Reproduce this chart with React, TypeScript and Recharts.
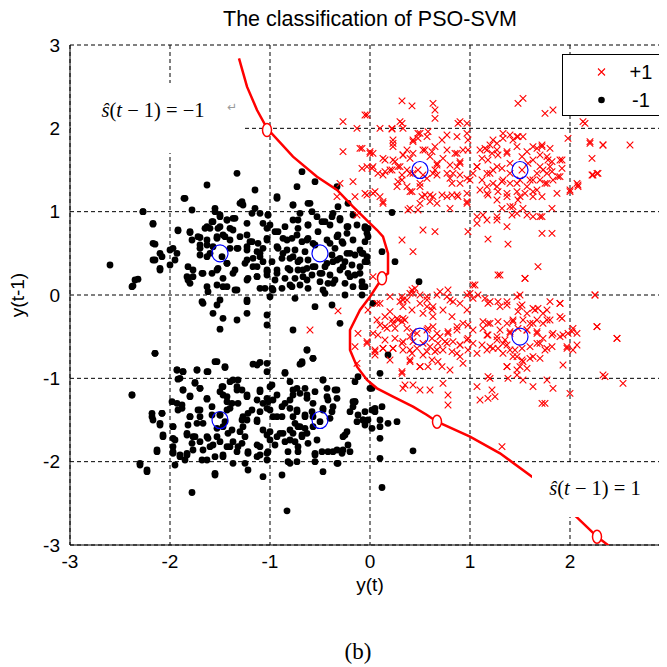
import { ScatterChart, Scatter, XAxis, YAxis, CartesianGrid } from "recharts";

// class -1 samples (black dots)
const negPoints: [number, number][] = [
  [-1.33, 1.46], [-1.63, 1.32], [-1.85, 1.16], [-2.27, 1.0], [-2.17, 0.86], [-1.15, 1.26], [-1.28, 1.12], [-1.27, 1.08],
  [-1.1, 0.98], [-0.93, 1.18], [-0.68, 1.48], [-0.55, 1.36], [-0.73, 1.3], [-0.33, 1.3], [-0.77, 1.08], [-0.62, 1.1],
  [-1.78, 1.02], [-1.55, 1.04], [-1.5, 0.94], [-1.43, 0.9], [-1.37, 0.92], [-1.58, 0.88], [-1.63, 0.82], [-1.52, 0.8],
  [-1.37, 0.78], [-1.45, 0.7], [-1.23, 0.86], [-1.18, 0.98], [-1.07, 0.86], [-1.02, 0.96], [-1.92, 0.78], [-1.8, 0.76],
  [-1.72, 0.7], [-1.63, 0.66], [-1.7, 0.6], [-1.57, 0.58], [-1.53, 0.7], [-1.4, 0.66], [-1.3, 0.7], [-1.2, 0.64],
  [-1.33, 0.56], [-1.23, 0.54], [-1.1, 0.5], [-1.12, 0.62], [-1.03, 0.66], [-0.93, 0.58], [-0.95, 0.76], [-0.85, 0.82],
  [-0.77, 0.9], [-0.7, 0.98], [-0.62, 0.84], [-0.53, 0.94], [-0.45, 0.88], [-0.37, 0.98], [-0.3, 0.9], [-0.23, 0.82],
  [-0.17, 0.96], [-0.05, 0.8], [-0.02, 0.7], [-0.83, 0.66], [-0.73, 0.72], [-0.63, 0.66], [-0.57, 0.62], [-0.43, 0.66],
  [-0.33, 0.7], [-0.27, 0.62], [-0.2, 0.5], [-0.17, 0.66], [-0.1, 0.54], [-0.03, 0.46], [-0.87, 0.5], [-0.77, 0.46],
  [-0.7, 0.42], [-0.8, 0.3], [-0.67, 0.3], [-0.57, 0.34], [-0.5, 0.26], [-0.43, 0.38], [-0.33, 0.42], [-0.27, 0.34],
  [-0.2, 0.22], [-0.1, 0.26], [-0.08, 0.1], [-0.37, 0.14], [-0.47, 0.06], [-0.63, 0.18], [-0.8, 0.12], [-0.93, 0.26],
  [-1.03, 0.3], [-1.13, 0.22], [-1.23, 0.18], [-1.37, 0.26], [-1.43, 0.38], [-1.53, 0.3], [-1.67, 0.26], [-1.77, 0.3],
  [-1.83, 0.22], [-1.8, 0.14], [-1.63, 0.1], [-1.47, 0.1], [-1.35, 0.06], [-1.1, 0.08], [-0.97, 0.06], [-2.17, 0.62],
  [-2.1, 0.5], [-2.15, 0.42], [-2.1, 0.3], [-2.0, 0.54], [-1.95, 0.42], [-2.6, 0.36], [-2.32, 0.19], [-2.37, 0.11],
  [-1.6, 0.5], [-1.48, 0.46], [-1.23, 0.42], [-1.17, 0.34],
  [-1.86, 1.16], [-2.27, 1.0], [-2.17, 0.85], [-1.92, 0.77], [-1.8, 0.75], [-1.78, 0.66], [-1.7, 0.69], [-1.65, 0.8],
  [-1.6, 0.8], [-1.55, 1.0], [-1.5, 0.96], [-1.43, 0.9], [-1.35, 0.92], [-1.57, 0.88], [-1.5, 0.82], [-1.4, 0.8],
  [-1.47, 0.72], [-1.53, 0.68], [-1.63, 0.6], [-1.7, 0.56], [-1.4, 0.56], [-1.32, 0.56], [-1.23, 0.58], [-1.18, 0.64],
  [-1.23, 0.72], [-1.13, 0.52], [-1.1, 0.46], [-1.17, 0.44], [-1.25, 0.38], [-1.13, 0.34], [-1.07, 0.4], [-1.03, 0.8],
  [-1.3, 1.1], [-1.15, 1.04], [-2.15, 0.61], [-2.08, 0.46], [-2.17, 0.42], [-2.0, 0.36], [-1.97, 0.56], [-1.93, 0.5],
  [-1.82, 0.34], [-1.77, 0.22], [-1.82, 0.18], [-1.68, 0.26], [-1.58, 0.26], [-1.52, 0.32], [-1.43, 0.38], [-1.35, 0.3],
  [-1.47, 0.2], [-1.53, 0.12], [-1.43, 0.1], [-1.33, 0.06], [-1.22, 0.2], [-1.13, 0.22], [-1.03, 0.28], [-1.62, 0.04],
  [-1.68, -0.08], [-1.5, -0.06], [-1.23, -0.06], [-1.05, 0.08], [-2.35, 0.18], [-2.38, 0.1], [-1.7, 0.48], [-1.63, 0.46],
  [-2.1, 0.32], [-1.03, 0.68], [-1.07, 0.56],
  [-0.93, 1.16], [-0.77, 1.08], [-0.6, 1.1], [-0.58, 1.0], [-0.32, 1.06], [-0.22, 1.1], [-1.02, 0.96], [-1.0, 0.84],
  [-0.72, 0.9], [-0.62, 0.84], [-0.72, 0.8], [-0.52, 0.76], [-0.4, 0.84], [-0.38, 0.94], [-0.3, 0.92], [-0.22, 0.82],
  [-0.13, 0.84], [-0.32, 0.72], [-0.23, 0.74], [-0.48, 0.88], [-0.87, 0.68], [-0.78, 0.68], [-0.68, 0.64], [-0.62, 0.68],
  [-0.55, 0.6], [-0.4, 0.62], [-0.35, 0.56], [-0.28, 0.64], [-0.38, 0.48], [-0.3, 0.44], [-0.23, 0.5], [-0.15, 0.48],
  [-0.08, 0.5], [-0.92, 0.56], [-0.83, 0.54], [-0.75, 0.54], [-0.65, 0.52], [-0.62, 0.42], [-0.72, 0.4], [-0.8, 0.44],
  [-0.88, 0.44], [-0.98, 0.4], [-0.93, 0.3], [-0.82, 0.32], [-0.72, 0.3], [-0.63, 0.32], [-0.55, 0.34], [-0.45, 0.34],
  [-0.37, 0.4], [-0.25, 0.4], [-0.18, 0.36], [-0.1, 0.34], [-0.05, 0.4], [-1.03, 0.24], [-0.95, 0.18], [-0.85, 0.2],
  [-0.75, 0.2], [-0.67, 0.22], [-0.58, 0.24], [-0.48, 0.26], [-0.4, 0.24], [-0.3, 0.3], [-0.22, 0.26], [-0.15, 0.24],
  [-0.08, 0.16], [-0.98, 0.08], [-0.88, 0.08], [-0.78, 0.1], [-0.7, 0.12], [-0.62, 0.08], [-0.5, 0.16], [-0.42, 0.14],
  [-0.35, 0.18], [-0.25, 0.14], [-0.17, 0.1], [-1.0, -0.02], [-0.75, -0.04], [-0.45, 0.02], [-0.25, 0.0], [-0.08, 0.0],
  [-0.92, 0.76], [-0.05, 0.64], [-0.02, 0.8],
  [-1.67, -0.1], [-1.53, -0.12], [-1.57, -0.22], [-1.47, -0.28], [-1.5, -0.41], [-1.33, -0.3], [-1.23, -0.08], [-1.23, -0.22],
  [-1.03, -0.24], [-0.77, -0.42], [-0.55, -0.14], [-0.38, -0.12], [-0.3, -0.34], [-0.63, -0.66], [-0.57, -0.76], [-0.68, -0.82],
  [-2.15, -0.7], [-1.03, -0.36],
  [0.22, 0.99], [-0.05, 0.82], [-0.03, 0.74], [-0.07, 0.5], [0.12, 0.52], [0.25, 0.4], [0.49, 0.16], [-0.03, 0.4], [-0.05, 0.1],
  [0.03, -0.1], [0.18, -0.72], [0.1, -0.94], [0.0, -1.12], [0.05, -1.36], [0.12, -1.34], [-0.07, -1.5], [-0.02, -1.5],
  [0.1, -1.58], [0.18, -1.54], [0.27, -1.52], [0.1, -1.72], [0.43, -1.87], [0.1, -1.96], [0.12, -2.31],
  [-1.93, -0.9], [-1.87, -0.92], [-1.73, -0.9], [-1.63, -0.92], [-1.55, -0.8], [-1.45, -0.87], [-1.17, -0.83], [-1.1, -0.81],
  [-1.03, -0.92], [-0.85, -0.93], [-0.7, -0.83], [-1.92, -1.01], [-1.75, -1.05], [-1.7, -1.12], [-1.87, -1.14], [-1.8, -1.21],
  [-1.93, -1.3], [-1.88, -1.36], [-1.63, -1.25], [-1.5, -1.16], [-1.43, -1.22], [-1.47, -1.1], [-1.37, -1.02], [-1.33, -1.1],
  [-1.28, -1.14], [-1.23, -1.22], [-1.38, -1.3], [-1.43, -1.38], [-1.5, -1.44], [-1.58, -1.44], [-1.7, -1.38], [-1.8, -1.46],
  [-1.73, -1.54], [-1.83, -1.66], [-1.75, -1.7], [-1.63, -1.7], [-1.53, -1.7], [-1.47, -1.58], [-1.42, -1.66], [-1.37, -1.76],
  [-1.32, -1.82], [-1.25, -1.7], [-1.27, -1.58], [-1.23, -1.5], [-1.13, -1.5], [-1.1, -1.14], [-1.0, -1.1], [-0.97, -1.26],
  [-1.07, -1.3], [-1.0, -1.38], [-0.93, -1.46], [-0.88, -1.34], [-0.8, -1.26], [-0.77, -1.14], [-0.7, -1.18], [-0.63, -1.2],
  [-0.57, -1.3], [-0.47, -1.02], [-0.43, -1.22], [-0.37, -1.34], [-0.33, -1.14], [-0.17, -1.28], [-0.47, -1.38], [-0.65, -1.46],
  [-0.7, -1.58], [-0.77, -1.66], [-0.68, -1.7], [-0.57, -1.58], [-0.53, -1.74], [-0.8, -1.74], [-0.87, -1.66], [-0.93, -1.7],
  [-1.0, -1.74], [-1.07, -1.62], [-1.1, -1.82], [-1.03, -1.9], [-1.13, -1.94], [-1.22, -1.9], [-1.25, -2.02], [-1.37, -2.02],
  [-1.47, -1.94], [-1.55, -1.94], [-1.63, -1.98], [-1.67, -1.86], [-1.77, -1.86], [-1.83, -1.9], [-1.9, -1.94], [-1.97, -1.9],
  [-1.97, -1.82], [-1.97, -1.72], [-1.97, -1.58], [-2.07, -1.7], [-2.13, -1.86], [-2.18, -1.46], [-2.1, -1.54], [-2.08, -1.42],
  [-2.3, -2.04], [-2.23, -2.12], [-2.38, -1.2], [-1.55, -2.16], [-1.22, -2.1], [-1.07, -2.18], [-0.88, -2.16], [-0.73, -2.0],
  [-0.8, -2.02], [-0.55, -1.9], [-0.47, -2.12], [-0.37, -1.88], [-0.32, -2.02], [-0.27, -1.86], [-0.2, -1.88], [-0.27, -1.7],
  [-0.23, -1.64], [-0.15, -1.28], [-0.07, -1.5], [0.02, -1.38], [-1.78, -2.37], [-0.83, -2.59], [-1.95, -2.04], [-1.85, -1.98],
  [-1.78, -1.78], [-1.6, -1.82], [-1.43, -1.82], [-1.28, -1.5], [-1.18, -1.38], [-0.77, -1.46], [-0.73, -1.38], [-0.75, -1.54],
  [-0.63, -1.66], [-0.62, -1.78], [-0.72, -1.82], [-0.57, -1.46], [-0.5, -1.52], [-0.4, -1.48],
  [-2.15, -0.7], [-1.53, -0.8], [-1.45, -0.86], [-1.93, -0.9], [-1.87, -0.92], [-1.73, -0.9], [-1.62, -0.92], [-1.9, -1.0],
  [-1.75, -1.06], [-1.7, -1.12], [-1.87, -1.14], [-1.8, -1.22], [-1.63, -1.24], [-1.58, -1.34], [-1.48, -1.1], [-1.47, -1.2],
  [-1.4, -1.04], [-1.32, -1.02], [-1.33, -1.14], [-1.43, -1.28], [-1.4, -1.36], [-1.32, -1.3], [-1.23, -1.2], [-1.13, -1.26],
  [-1.1, -1.16], [-1.03, -1.24], [-1.03, -0.82], [-1.13, -0.84], [-2.38, -1.2], [-1.98, -1.28], [-1.92, -1.38], [-1.88, -1.32],
  [-2.18, -1.42], [-2.08, -1.42], [-2.17, -1.5], [-2.1, -1.56], [-1.97, -1.58], [-1.8, -1.46], [-1.72, -1.38], [-1.7, -1.46],
  [-1.67, -1.54], [-1.82, -1.56], [-1.83, -1.68], [-1.77, -1.7], [-2.07, -1.68], [-1.95, -1.74], [-1.7, -1.76], [-1.62, -1.72],
  [-1.53, -1.6], [-1.5, -1.76], [-1.5, -1.44], [-1.45, -1.52], [-1.38, -1.62], [-1.3, -1.64], [-1.27, -1.46], [-1.22, -1.42],
  [-1.13, -1.52], [-1.1, -1.4], [-1.03, -1.36], [-1.28, -1.78], [-1.4, -1.82], [-1.33, -1.88], [-1.47, -1.92], [-1.57, -1.8],
  [-1.9, -1.92], [-1.83, -1.92], [-1.97, -1.88], [-1.68, -1.98], [-2.3, -2.02], [-2.23, -2.1], [-2.13, -1.88], [-1.22, -1.88],
  [-1.1, -1.92], [-1.03, -1.98], [-1.13, -1.8], [-1.03, -1.68], [-1.55, -2.14],
  [-0.63, -0.66], [-0.57, -0.76], [-0.68, -0.8], [-0.85, -0.94], [-0.8, -1.04], [-0.98, -1.08], [-0.93, -1.2], [-1.02, -1.28],
  [-0.85, -1.3], [-0.77, -1.2], [-0.73, -1.12], [-0.65, -1.12], [-0.63, -1.24], [-0.55, -1.16], [-0.47, -1.02], [-0.43, -1.12],
  [-0.35, -1.14], [-0.33, -1.24], [-0.42, -1.26], [-0.47, -1.36], [-0.58, -1.4], [-0.65, -1.44], [-0.73, -1.4], [-0.8, -1.36],
  [-0.88, -1.46], [-0.97, -1.46], [-1.0, -1.64], [-0.9, -1.66], [-0.8, -1.62], [-0.72, -1.58], [-0.65, -1.6], [-0.68, -1.68],
  [-0.75, -1.76], [-0.85, -1.76], [-0.95, -1.8], [-1.02, -1.88], [-0.82, -1.88], [-0.72, -1.88], [-0.55, -1.92], [-0.42, -1.88],
  [-0.33, -1.86], [-0.25, -1.68], [-0.22, -1.8], [-0.28, -1.9], [-0.33, -2.02], [-0.38, -1.4], [-0.2, -1.4], [-0.15, -1.28],
  [-0.12, -1.44], [-0.05, -1.4], [0.05, -1.4], [0.1, -1.5], [0.02, -1.6], [-0.05, -1.56], [-0.13, -1.52], [-0.17, -1.34],
  [-0.12, -0.98], [0.02, -1.12], [-0.15, -1.04], [-0.82, -2.0], [-0.55, -2.0], [-0.48, -1.88],
];

// class +1 samples (red crosses)
const posPoints: [number, number][] = [
  [0.32, 2.33], [0.42, 2.27], [0.63, 2.3], [0.65, 2.22], [0.65, 2.12], [-0.03, 2.16], [0.3, 2.08], [0.22, 1.99],
  [0.33, 2.0], [0.48, 1.94], [0.57, 1.9], [0.43, 1.86], [0.37, 1.74], [0.23, 1.78], [0.23, 1.86], [0.13, 1.64],
  [0.23, 1.62], [0.33, 1.68], [0.4, 1.64], [0.55, 1.74], [0.6, 1.66], [0.65, 1.78], [0.72, 1.86], [0.77, 1.74],
  [0.87, 1.9], [0.9, 2.08], [0.97, 2.06], [0.87, 1.7], [0.9, 1.58], [0.98, 1.74], [0.8, 1.56], [0.77, 1.46],
  [0.67, 1.56], [0.63, 1.46], [0.57, 1.4], [0.5, 1.34], [0.43, 1.46], [0.37, 1.5], [0.3, 1.54], [0.2, 1.5],
  [0.13, 1.44], [0.03, 1.54], [-0.03, 1.54], [0.0, 1.7], [-0.08, 1.76], [0.32, 1.38], [0.27, 1.3], [0.4, 1.24],
  [0.52, 1.18], [0.6, 1.2], [0.67, 1.1], [0.77, 1.18], [0.87, 1.2], [0.97, 1.22], [0.97, 1.1], [0.9, 1.34],
  [0.83, 1.46], [1.0, 1.38], [1.07, 1.54], [1.1, 1.74], [1.17, 1.74], [1.18, 1.62], [1.23, 1.86], [1.27, 1.74],
  [1.33, 1.94], [1.37, 1.7], [1.43, 1.86], [1.48, 1.9], [1.53, 1.9], [1.63, 1.78], [1.72, 1.78], [1.8, 1.76],
  [1.77, 1.66], [1.7, 1.54], [1.8, 1.54], [1.9, 1.62], [1.77, 1.46], [1.83, 1.38], [1.9, 1.42], [1.75, 1.34],
  [1.63, 1.38], [1.57, 1.3], [1.5, 1.18], [1.47, 1.34], [1.4, 1.46], [1.33, 1.38], [1.27, 1.3], [1.2, 1.46],
  [1.27, 1.54], [1.17, 1.22], [1.27, 1.14], [1.37, 1.22], [1.43, 1.06], [1.63, 1.18], [1.67, 1.26], [1.87, 1.22],
  [2.0, 1.24], [2.07, 1.34], [1.72, 0.94], [1.57, 0.96], [1.47, 0.98], [1.37, 0.82], [1.27, 0.94], [1.07, 0.94],
  [1.07, 0.86], [0.98, 0.76], [1.18, 0.67], [1.38, 0.61], [0.53, 0.78], [0.65, 0.76], [0.32, 0.66], [0.43, 0.52],
  [0.1, 1.18], [0.03, 1.22], [-0.05, 1.22], [0.13, 1.1], [0.38, 1.02], [0.48, 1.02], [1.48, 2.3], [1.53, 2.36],
  [1.75, 2.18], [1.83, 2.22], [1.98, 1.88], [2.2, 1.84], [2.33, 1.8], [2.6, 1.8], [2.22, 1.64], [2.23, 1.44],
  [2.28, 1.46], [2.08, 1.3], [2.13, 2.08], [1.72, 0.74], [1.82, 0.74], [1.68, 0.34], [1.3, 0.24], [1.55, 0.2],
  [1.03, 0.12], [0.7, 0.04], [0.78, 0.06], [0.42, 0.06], [0.32, -0.02],
  [-0.27, 2.08], [-0.05, 2.16], [-0.13, 2.0], [-0.27, 1.72], [-0.1, 1.76], [0.0, 1.72], [-0.08, 1.52], [0.02, 1.52],
  [-0.17, 1.36], [-0.3, 1.34], [-0.15, 1.18], [-0.03, 1.2], [-0.33, 1.18], [-0.13, 0.96], [0.03, 0.22],
  [0.1, 2.0], [0.22, 2.0], [0.32, 2.06], [0.5, 1.94], [0.58, 1.96], [0.77, 1.92], [0.88, 2.06], [0.97, 1.94],
  [0.43, 1.84], [0.48, 1.88], [0.23, 1.82], [0.03, 1.7], [0.15, 1.62], [0.25, 1.6], [0.33, 1.68], [0.43, 1.7],
  [0.53, 1.74], [0.62, 1.72], [0.67, 1.58], [0.65, 1.5], [0.73, 1.64], [0.85, 1.7], [0.9, 1.6], [0.87, 1.54],
  [0.93, 1.74], [0.98, 1.86], [0.08, 1.46], [0.15, 1.48], [0.22, 1.5], [0.28, 1.54], [0.32, 1.44], [0.4, 1.46],
  [0.48, 1.5], [0.53, 1.44], [0.67, 1.44], [0.8, 1.4], [0.9, 1.44], [0.97, 1.4], [0.82, 1.34], [0.05, 1.24],
  [0.13, 1.12], [0.28, 1.36], [0.37, 1.3], [0.42, 1.24], [0.5, 1.3], [0.55, 1.2], [0.63, 1.18], [0.6, 1.12],
  [0.5, 1.1], [0.4, 1.04], [0.72, 1.2], [0.82, 1.2], [0.8, 1.04], [0.88, 1.18], [0.97, 1.12], [1.03, 1.46],
  [1.07, 1.54], [1.12, 1.64], [1.15, 1.76], [1.2, 1.8], [1.27, 1.82], [1.33, 1.88], [1.4, 1.92], [1.47, 1.9],
  [1.47, 1.78], [1.57, 1.72], [1.67, 1.76], [1.72, 1.8], [1.78, 1.62], [1.82, 1.6], [1.92, 1.62], [1.7, 1.68],
  [1.63, 1.62], [1.52, 1.66], [1.37, 1.72], [1.28, 1.68], [1.22, 1.7], [1.12, 1.38], [1.17, 1.46], [1.23, 1.5],
  [1.32, 1.52], [1.4, 1.58], [1.52, 1.5], [1.58, 1.58], [1.67, 1.46], [1.73, 1.5], [1.82, 1.48], [1.88, 1.42],
  [1.92, 1.52], [1.77, 1.34], [1.7, 1.38], [1.6, 1.38], [1.5, 1.38], [1.4, 1.34], [1.32, 1.36], [1.23, 1.34],
  [1.17, 1.3], [1.1, 1.26], [1.18, 1.2], [1.28, 1.24], [1.37, 1.18], [1.47, 1.24], [1.55, 1.22], [1.63, 1.24],
  [1.72, 1.18], [1.48, 1.14], [1.32, 1.04], [1.4, 1.06], [1.53, 1.04], [1.13, 0.96], [1.17, 0.9], [1.27, 0.9],
  [1.42, 0.96], [1.63, 0.94], [1.7, 0.94], [1.82, 1.04], [2.0, 1.26], [2.08, 1.32], [2.2, 1.82], [2.33, 1.8],
  [2.27, 1.46], [2.22, 1.44], [2.15, 2.06],
  [0.1, -0.1], [-0.02, -0.18], [0.2, -0.2], [0.28, -0.3], [0.33, -0.28], [0.23, -0.34], [0.15, -0.38], [0.07, -0.3],
  [0.03, -0.46], [-0.03, -0.56], [0.05, -0.68], [0.13, -0.64], [0.23, -0.64], [0.32, -0.58], [0.4, -0.5], [0.47, -0.46],
  [0.57, -0.42], [0.63, -0.38], [0.7, -0.5], [0.6, -0.62], [0.53, -0.72], [0.4, -0.78], [0.32, -0.92], [0.5, -0.86],
  [0.62, -0.78], [0.67, -0.66], [0.77, -0.58], [0.78, -0.46], [0.87, -0.38], [0.82, -0.26], [0.73, -0.18], [0.63, -0.14],
  [0.57, -0.06], [0.5, 0.0], [0.43, 0.02], [0.37, -0.06], [0.3, -0.08], [0.8, -0.06], [0.9, -0.1], [0.97, -0.18],
  [0.93, -0.34], [0.97, -0.54], [0.9, -0.6], [0.87, -0.7], [0.93, -0.82], [1.0, 0.02], [1.08, 0.0], [1.18, -0.1],
  [1.3, -0.14], [1.37, -0.08], [1.5, 0.0], [1.5, -0.14], [1.63, -0.16], [1.77, -0.18], [1.9, -0.1], [1.9, -0.26],
  [1.77, -0.3], [1.63, -0.34], [1.57, -0.42], [1.67, -0.46], [1.7, -0.58], [1.83, -0.46], [1.93, -0.48], [2.02, -0.44],
  [2.07, -0.6], [1.97, -0.64], [1.93, -0.84], [1.77, -0.64], [1.63, -0.74], [1.53, -0.8], [1.47, -0.74], [1.4, -0.66],
  [1.33, -0.58], [1.27, -0.54], [1.17, -0.48], [1.2, -0.34], [1.13, -0.32], [1.3, -0.42], [1.4, -0.46], [1.43, -0.3],
  [1.03, -0.42], [1.03, -0.58], [1.07, -0.7], [1.17, -0.66], [1.23, -0.64], [1.37, -0.86], [1.47, -0.96], [1.53, -1.02],
  [1.63, -1.1], [1.77, -1.02], [1.83, -1.12], [1.72, -1.3], [1.75, -1.3], [1.47, -0.9], [1.38, -1.0], [1.2, -1.0],
  [1.07, -1.1], [1.22, -1.14], [1.25, -1.22], [1.18, -1.24], [1.1, -1.26], [0.78, -1.2], [0.78, -1.32], [0.6, -1.14],
  [0.5, -1.14], [0.33, -1.12], [0.35, -1.08], [0.43, -1.08], [2.25, 0.0], [2.27, -0.38], [2.47, -0.52], [2.35, -0.98],
  [2.53, -1.06], [2.0, -1.18], [1.32, -1.82], [0.73, -1.06], [0.4, -0.66],
  [-0.32, -0.19], [-0.6, -0.42], [-0.12, -0.46], [-0.15, -0.62], [-0.03, -0.58], [0.05, -0.72], [-0.13, -0.82],
  [0.07, -0.1], [0.2, -0.02], [0.33, -0.06], [0.4, 0.02], [0.45, 0.08], [0.57, -0.02], [0.67, 0.0], [0.77, -0.02],
  [0.83, -0.08], [0.97, 0.0], [0.33, -0.14], [0.42, -0.18], [0.5, -0.1], [0.57, -0.14], [0.53, -0.22], [0.62, -0.18],
  [0.63, -0.26], [0.15, -0.26], [0.22, -0.3], [0.27, -0.28], [0.32, -0.32], [0.35, -0.3], [0.1, -0.36], [0.17, -0.4],
  [0.25, -0.4], [0.37, -0.4], [0.43, -0.44], [0.58, -0.4], [0.67, -0.46], [0.78, -0.44], [0.87, -0.42], [0.08, -0.48],
  [0.15, -0.54], [0.25, -0.52], [0.33, -0.56], [0.43, -0.56], [0.53, -0.58], [0.62, -0.52], [0.68, -0.58], [0.75, -0.56],
  [0.83, -0.56], [0.9, -0.6], [0.98, -0.66], [0.05, -0.66], [0.13, -0.64], [0.23, -0.64], [0.33, -0.66], [0.42, -0.7],
  [0.47, -0.64], [0.57, -0.68], [0.65, -0.68], [0.73, -0.66], [0.82, -0.68], [0.9, -0.74], [0.2, -0.78], [0.4, -0.8],
  [0.5, -0.86], [0.58, -0.86], [0.68, -0.8], [0.72, -0.86], [0.8, -0.9], [0.32, -0.94], [1.05, 0.12], [1.03, -0.04],
  [1.15, -0.04], [1.2, -0.08], [1.28, -0.08], [1.37, -0.12], [1.47, -0.02], [1.52, -0.12], [1.48, -0.2], [1.57, -0.22],
  [1.65, -0.18], [1.68, -0.16], [1.73, -0.22], [1.8, -0.08], [1.9, -0.1], [1.92, -0.28], [1.8, -0.3], [1.73, -0.34],
  [1.67, -0.3], [1.6, -0.34], [1.53, -0.3], [1.43, -0.32], [1.37, -0.34], [1.28, -0.32], [1.18, -0.34], [1.13, -0.4],
  [1.18, -0.48], [1.27, -0.5], [1.35, -0.54], [1.4, -0.44], [1.48, -0.4], [1.57, -0.42], [1.67, -0.44], [1.73, -0.52],
  [1.82, -0.48], [1.9, -0.5], [1.12, -0.6], [1.2, -0.62], [1.28, -0.64], [1.37, -0.6], [1.45, -0.66], [1.52, -0.64],
  [1.6, -0.62], [1.67, -0.58], [1.75, -0.66], [1.82, -0.62], [1.33, -0.7], [1.43, -0.74], [1.52, -0.78], [1.6, -0.76],
  [1.37, -0.86], [1.5, -0.86], [1.7, -0.76], [1.57, -0.88], [1.97, -0.62], [2.03, -0.66], [2.07, -0.46], [1.98, -0.46],
  [2.03, -0.4], [2.27, -0.38], [2.47, -0.52], [2.25, 0.0], [1.28, 0.24], [1.55, 0.2], [0.98, -0.36], [0.98, -0.52],
  [1.18, -0.98], [2.33, -0.96],
];

// cluster centres (blue circles)
const centers: [number, number][] = [
  [-1.5, 0.5], [-0.5, 0.5], [-1.5, -1.5], [-0.5, -1.5], [0.5, 1.5], [1.5, 1.5], [0.5, -0.5], [1.5, -0.5],
];

// PSO-SVM decision boundary
const boundary: [number, number][] = [
  [-1.31, 2.84], [-1.23, 2.5], [-1.13, 2.22], [-1.03, 2.0], [-0.77, 1.66], [-0.53, 1.42], [-0.33, 1.26], [-0.17, 1.06],
  [0.0, 0.86], [0.07, 0.78], [0.13, 0.7], [0.18, 0.5], [0.18, 0.26], [0.12, 0.2], [0.0, -0.02], [-0.1, -0.18],
  [-0.2, -0.42], [-0.2, -0.66], [-0.13, -0.86], [-0.03, -1.02], [0.07, -1.12], [0.23, -1.22], [0.43, -1.34],
  [0.57, -1.44], [0.67, -1.52], [1.0, -1.7], [1.3, -1.9], [1.62, -2.18], [2.08, -2.68], [2.27, -2.9], [2.4, -3.02],
];
const boundaryMarks: [number, number][] = [[-1.03, 1.98], [0.12, 0.2], [0.67, -1.52], [2.27, -2.9]];

const axisTicks = [-3, -2, -1, 0, 1, 2, 3];

const toXY = (arr: [number, number][]) => arr.map(([x, y]) => ({ x, y }));

const sansFont = "'Liberation Sans', Arial, sans-serif";
const serifFont = "'Liberation Serif', 'Times New Roman', serif";

const Cross = (p: any) => {
  const { cx, cy } = p;
  const s = 3.3;
  return (
    <path
      d={`M${cx - s},${cy - s}L${cx + s},${cy + s}M${cx - s},${cy + s}L${cx + s},${cy - s}`}
      stroke="#ff0000"
      strokeWidth={1.1}
      fill="none"
    />
  );
};
const Dot = (p: any) => <circle cx={p.cx} cy={p.cy} r={3.4} fill="#000" />;
const Centre = (p: any) => (
  <ellipse cx={p.cx} cy={p.cy} rx={8} ry={8.5} fill="none" stroke="#0000ff" strokeWidth={1.2} />
);
const Mark = (p: any) => (
  <ellipse cx={p.cx} cy={p.cy} rx={4.5} ry={6.5} fill="#fff" stroke="#ff0000" strokeWidth={1.5} />
);
const NoShape = () => <g />;

const label = (extra: any) => ({ position: "absolute" as const, whiteSpace: "nowrap" as const, lineHeight: 1.1, ...extra });

export default function App() {
  return (
    <div style={{ position: "relative", width: 659, height: 659, overflow: "hidden", background: "#fff" }}>
      <ScatterChart width={680} height={659} margin={{ top: 37, right: 18, bottom: 92, left: 0 }}>
        <CartesianGrid stroke="#000" strokeDasharray="4 3" strokeWidth={1} />
        <XAxis
          type="number"
          dataKey="x"
          domain={[-3, 3]}
          ticks={axisTicks}
          allowDataOverflow
          height={30}
          tickLine={false}
          tickSize={6}
          tickMargin={4}
          axisLine={{ stroke: "#000" }}
          tick={{ fill: "#000", fontSize: 19, fontFamily: sansFont }}
        />
        <YAxis
          type="number"
          dataKey="y"
          domain={[-3, 3]}
          ticks={axisTicks}
          allowDataOverflow
          width={62}
          tickLine={false}
          tickSize={6}
          tickMargin={4}
          axisLine={{ stroke: "#000" }}
          tick={{ fill: "#000", fontSize: 19, fontFamily: sansFont }}
        />
        <Scatter data={toXY(negPoints)} shape={Dot} isAnimationActive={false} />
        <Scatter data={toXY(posPoints)} shape={Cross} isAnimationActive={false} />
        <Scatter
          data={toXY(boundary)}
          line={{ stroke: "#ff0000", strokeWidth: 2.5 }}
          lineType="joint"
          shape={NoShape}
          isAnimationActive={false}
        />
        <Scatter data={toXY(boundaryMarks)} shape={Mark} isAnimationActive={false} />
        <Scatter data={toXY(centers)} shape={Centre} isAnimationActive={false} />
      </ScatterChart>

      <div style={label({ left: 362, top: 12, transform: "translate(-50%,-50%)", fontFamily: sansFont, fontSize: 21.5 })}>
        The classification of PSO-SVM
      </div>
      <div style={label({ left: 10, top: 287, transform: "translate(-50%,-50%) rotate(-90deg)", fontFamily: sansFont, fontSize: 19 })}>
        y(t-1)
      </div>
      <div style={label({ left: 362, top: 577, transform: "translate(-50%,-50%)", fontFamily: sansFont, fontSize: 19 })}>
        y(t)
      </div>
      <div style={label({ left: 350, top: 644, transform: "translate(-50%,-50%)", fontFamily: serifFont, fontSize: 23 })}>
        (b)
      </div>

      <div style={label({ left: 63, top: 75, width: 173, height: 70, background: "#fff" })} />
      <div style={label({ left: 145, top: 102, transform: "translate(-50%,-50%)", fontFamily: serifFont, fontSize: 20.5 })}>
        <i>s&#770;</i>(<i>t</i> &minus; 1) = &minus;1
      </div>
      <div style={label({ left: 224, top: 100, transform: "translate(-50%,-50%)", fontFamily: "'DejaVu Sans', sans-serif", fontSize: 12, color: "#999" })}>
        ↵
      </div>

      <div style={label({ left: 524, top: 455, width: 140, height: 54, background: "#fff" })} />
      <div style={label({ left: 587, top: 480, transform: "translate(-50%,-50%)", fontFamily: serifFont, fontSize: 20.5 })}>
        <i>s&#770;</i>(<i>t</i> &minus; 1) = 1
      </div>

      <div style={label({ left: 554, top: 46, width: 99, height: 60, background: "#fff", border: "1px solid #000" })}>
        <svg width={99} height={60} style={{ position: "absolute", left: 0, top: 0 }}>
          <path d="M35,13.5L42,20.5M35,20.5L42,13.5" stroke="#ff0000" strokeWidth={1.1} />
          <circle cx={38.5} cy={45} r={3.3} fill="#000" />
        </svg>
        <div style={label({ left: 78, top: 17, transform: "translate(-50%,-50%)", fontFamily: sansFont, fontSize: 20 })}>+1</div>
        <div style={label({ left: 78, top: 45, transform: "translate(-50%,-50%)", fontFamily: sansFont, fontSize: 20 })}>-1</div>
      </div>
    </div>
  );
}
